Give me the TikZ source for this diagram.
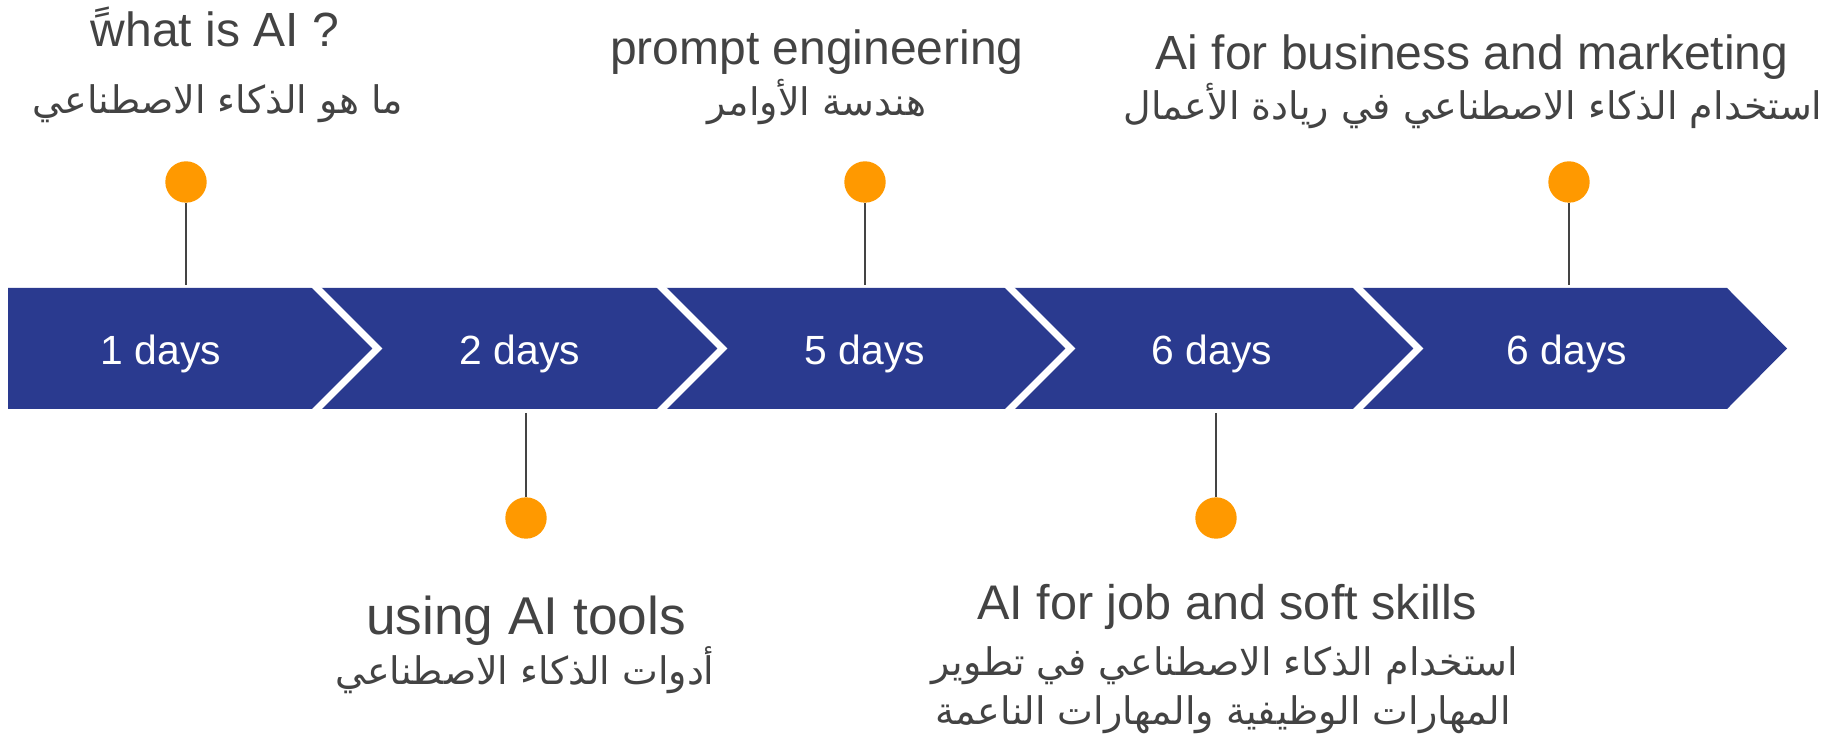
\documentclass[tikz,border=0pt]{standalone}
\usepackage{fontspec}
\setmainfont{Liberation Sans}
\newfontfamily\arabicfont[Script=Arabic]{DejaVu Sans}
\TeXXeTstate=1
\definecolor{bandblue}{RGB}{42,58,143}
\definecolor{dotorange}{RGB}{255,153,0}
\definecolor{textgray}{RGB}{67,67,67}
\definecolor{linegray}{RGB}{68,68,68}

\begin{document}
\begin{tikzpicture}
    [x=0.5pt,y=-0.5pt,
    every node/.style={inner sep=0pt,anchor=base},
    daylabel/.style={text=white,font=\fontsize{20.4}{24}\selectfont},
    milestone/.style={circle,fill=dotorange,minimum size=20.7pt,anchor=center},
    title/.style={text=textgray,font=\fontsize{24}{28}\selectfont},
    arabic/.style={text=textgray,font=\arabicfont\fontsize{19}{23}\selectfont},
    stem/.style={draw=linegray,line width=1pt},
    chevron/.style={draw=white,line width=3.5pt}]
    \useasboundingbox (0,0) rectangle (1824,742);
    \fill[bandblue] (8,288) -- (1727,288) -- (1787,348.5) -- (1727,409) -- (8,409) -- cycle;
    \draw[chevron] (313,284) -- (377.5,348.5) -- (313,413);
    \draw[chevron] (658,284) -- (722.5,348.5) -- (658,413);
    \draw[chevron] (1006,284) -- (1070.5,348.5) -- (1006,413);
    \draw[chevron] (1354,284) -- (1418.5,348.5) -- (1354,413);
    \node[daylabel] (d1) at (161,365) {1 days};
    \node[daylabel] (d2) at (520,365) {2 days};
    \node[daylabel] (d3) at (865,365) {5 days};
    \node[daylabel] (d4) at (1212,365) {6 days};
    \node[daylabel] (d5) at (1567,365) {6 days};
    \node[milestone] (m1) at (186,182) {};
    \node[milestone] (m2) at (526,518) {};
    \node[milestone] (m3) at (865,182) {};
    \node[milestone] (m4) at (1216,518) {};
    \node[milestone] (m5) at (1569,182) {};
    \coordinate (s1) at (186,285);
    \coordinate (s2) at (526,413);
    \coordinate (s3) at (865,285);
    \coordinate (s4) at (1216,413);
    \coordinate (s5) at (1569,285);
    \draw[stem] (m1) -- (s1);
    \draw[stem] (s2) -- (m2);
    \draw[stem] (m3) -- (s3);
    \draw[stem] (s4) -- (m4);
    \draw[stem] (m5) -- (s5);
    \node[title] (t1) at (215,47) {\rlap{\arabicfont\char"00A0\char"064B}what is AI ?};
    \node[arabic] (a1) at (218,114) {\beginR ما هو الذكاء الاصطناعي\endR};
    \node[title,font=\fontsize{26.6}{30}\selectfont] (t2) at (526,634) {using AI tools};
    \node[arabic] (a2) at (525,684) {\beginR أدوات الذكاء الاصطناعي\endR};
    \node[title] (t3) at (817,65) {prompt engineering};
    \node[arabic] (a3) at (817,116) {\beginR هندسة الأوامر\endR};
    \node[title,font=\fontsize{24.3}{28}\selectfont] (t4) at (1227,619) {AI for job and soft skills};
    \node[arabic] (a4) at (1225,675) {\beginR استخدام الذكاء الاصطناعي في تطوير\endR};
    \node[arabic] (a4b) at (1223,724) {\beginR المهارات الوظيفية والمهارات الناعمة\endR};
    \node[title] (t5) at (1472,70) {Ai for business and marketing};
    \node[arabic] (a5) at (1473,120) {\beginR استخدام الذكاء الاصطناعي في ريادة الأعمال\endR};
\end{tikzpicture}
\end{document}
